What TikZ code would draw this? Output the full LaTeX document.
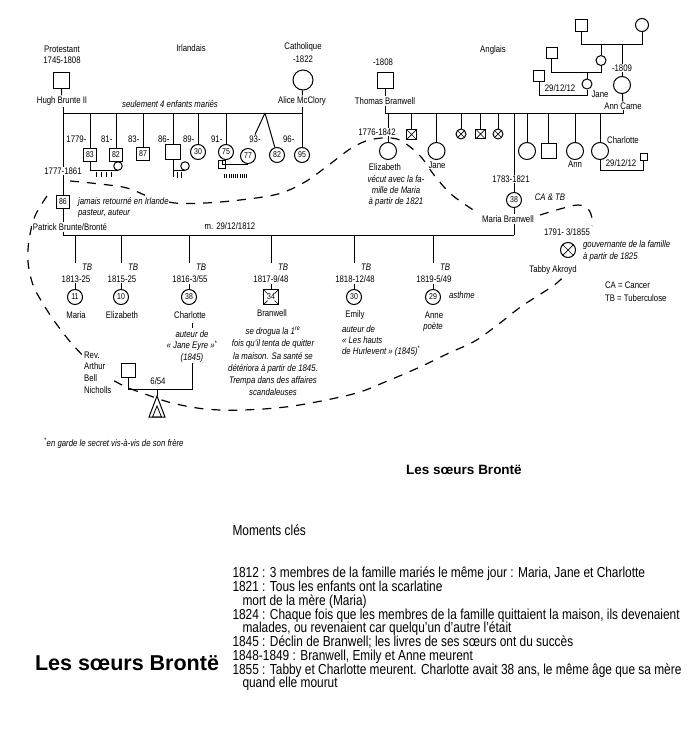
\documentclass[tikz,border=0pt]{standalone}
\usepackage{fontspec}
\setmainfont[FakeStretch=0.82]{Liberation Sans}
\newfontfamily\titlefont{Liberation Sans}
\usetikzlibrary{arrows.meta,positioning,calc,backgrounds}
\newcommand{\lblsize}{\fontsize{9.5}{10.5}\selectfont}
\newcommand{\tightlines}{\lineskiplimit=-20pt\relax}

\begin{document}
\begin{tikzpicture}[x=1pt, y=-1pt, line width=1pt, >=Stealth,
  lbl/.style={font=\lblsize, inner sep=0.6pt, fill=white},
  note/.style={font=\fontsize{9.5}{11.2}\selectfont\itshape, inner sep=0.6pt, align=#1, fill=white},
  note/.default=center,
  man/.style={draw, minimum size=#1, inner sep=0pt, fill=white},
  man/.default=15pt,
  woman/.style={draw, circle, minimum size=#1, inner sep=0pt, fill=white},
  woman/.default=17pt,
  age/.style={draw, circle, minimum size=15pt, inner sep=0pt, fill=white, font=\fontsize{8.5}{9}\selectfont},
  boldsq/.style={draw, line width=1.4pt, minimum size=13.5pt, inner sep=0pt, fill=white, font=\fontsize{8.5}{9}\selectfont},
  xsq/.style={draw, minimum size=#1, inner sep=0pt, fill=white,
    path picture={\draw[line width=0.7pt] (path picture bounding box.north west) -- (path picture bounding box.south east)
      (path picture bounding box.north east) -- (path picture bounding box.south west);}},
  xsq/.default=9.5pt,
  xcirc/.style={xsq=#1, circle},
  xcirc/.default=10pt,
  kids/.style={line width=0.7pt},
  dashline/.style={line width=1.2pt, dash pattern=on 9pt off 8pt}]
  \useasboundingbox (0,0) rectangle (692,750);

  % Brunte side
  \node[lbl] (prot) at (62,49) {Protestant};
  \node[lbl] (hughd) at (62,60) {1745-1808};
  \node[man=16pt] (hugh) at (61,80) {};
  \node[lbl] (hughn) at (62,101) {Hugh Brunte II};
  \node[lbl] (irl) at (191,48) {Irlandais};
  \node[lbl] (cath) at (303,47) {Catholique};
  \node[lbl] (alid) at (303,59) {-1822};
  \node[woman=20pt] (alice) at (303,80) {};
  \node[lbl] (alicen) at (302,101) {Alice McClory};
  \node[note] (seul) at (170,104) {seulement 4 enfants mariés};
  \coordinate (hb) at (63,113);
  \coordinate (ab) at (302,113);
  \coordinate (twin) at (265,113);

  \foreach \n/\x/\y/\a in {k1/90/155/83, k2/116/155/82, k3/143/154/87}
    \node[boldsq] (\n) at (\x,\y) {\a};
  \node[man=15pt] (k4) at (173,152) {};
  \foreach \n/\x/\y/\a in {k5/198/152/30, k6/226/152/75, k7/248/156/77, k8/277/155/82, k9/302/155/95}
    \node[age] (\n) at (\x,\y) {\a};
  \foreach \n/\x/\t in {k1/87.5/1779-, k2/113.5/81-, k3/140.5/83-, k4/170.5/86-, k5/195.5/89-, k6/223.5/91-, k9/295.5/96-}
    \node[lbl, anchor=east] (y\n) at (\x,139) {\t};
  \node[lbl] (yk7) at (255,139) {93-};
  \node[woman=8.5pt] (w1) at (118,166) {};
  \node[woman=8.5pt] (w4) at (185,166) {};
  \node[man=7.5pt] (h6) at (222,164.5) {};

  \node[lbl] (patd) at (63,171) {1777-1861};
  \node[boldsq] (pat) at (63,202) {86};
  \node[note=left, anchor=west] (patnote) at (77,207.5) {jamais retourné en Irlande\\pasteur, auteur};
  \node[lbl] (patn) at (70,227) {Patrick Brunte/Bronté};
  \node[lbl] (marr) at (230,226) {m. 29/12/1812};
  \coordinate (pbar) at (63,235);
  \coordinate (mbar) at (514,235);

  % Patrick's children
  \foreach \n/\x/\d/\a/\nm in {maria/75/1813-25/11/Maria, eliz/121/1815-25/10/Elizabeth, charl/189/{1816-3/55}/38/Charlotte, emily/354/{1818-12/48}/30/Emily, anne/433/{1819-5/49}/29/Anne} {
    \node[note] (tb\n) at (\x+12,267) {TB};
    \node[lbl] (d\n) at (\x+1,279) {\d};
    \node[age] (\n) at (\x,297) {\a};
    \node[lbl] (n\n) at (\x+1,315) {\nm};
    \draw (\x,235) -- (\x,263);
    \draw (\n |- d\n.south) -- (\n);
  }
  \node[note] (tbbran) at (283,267) {TB};
  \node[lbl] (dbran) at (271,279) {1817-9/48};
  \node[boldsq, minimum size=15pt, path picture={\draw[line width=0.7pt]
      (path picture bounding box.north west) -- ++(4pt,-4pt) (path picture bounding box.north east) -- ++(-4pt,-4pt)
      (path picture bounding box.south west) -- ++(4pt,4pt) (path picture bounding box.south east) -- ++(-4pt,4pt);}] (bran) at (271,297) {34};
  \node[lbl] (nbran) at (272,313) {Branwell};
  \node[note] (charnote) at (192,346.5) {auteur de\\« Jane Eyre »\textsuperscript{*}\\(1845)};
  \node[note, font=\fontsize{9.5}{12.2}\selectfont\itshape] (brannote) at (273,361.5) {se drogua la 1\textsuperscript{re}\\fois qu'il tenta de quitter\\la maison. Sa santé se\\détériora à partir de 1845.\\Trempa dans des affaires\\scandaleuses};
  \node[note=left, anchor=west] (emnote) at (341,341) {auteur de\\« Les hauts\\de Hurlevent » (1845)\textsuperscript{*}};
  \node[note, anchor=west] (asth) at (448,295) {asthme};
  \node[note] (poete) at (433,327) {poète};

  \node[man=14pt] (nich) at (128,370) {};
  \node[lbl, align=left, anchor=west, font=\fontsize{9.5}{11.7}\selectfont] (nichn) at (83,372.5) {Rev.\\Arthur\\Bell\\Nicholls};
  \node[lbl] (wed) at (158,381) {6/54};
  \coordinate (nb) at (128,389);
  \coordinate (cb) at (192,389);
  \coordinate (tri) at (157,396);
  \coordinate (tick) at (192,323);

  % Branwell side
  \node[lbl] (thd) at (383,62) {-1808};
  \node[man=16pt] (thomas) at (385,80) {};
  \node[lbl] (thn) at (385,101) {Thomas Branwell};
  \node[lbl] (angl) at (493,50) {Anglais};
  \node[man=12pt] (gf) at (581,25) {};
  \node[woman=13pt] (gm) at (642,25) {};
  \node[woman=10pt] (aunt) at (601,60.5) {};
  \node[man=11pt] (ugf) at (551.5,52.5) {};
  \node[woman=10pt] (jane) at (587,84) {};
  \node[man=11.5pt] (janeh) at (539,76) {};
  \node[lbl] (janed) at (560,88) {29/12/12};
  \node[lbl] (janen) at (600,94) {Jane};
  \node[lbl] (annd) at (622,68) {-1809};
  \node[woman=17pt] (ann) at (622,85) {};
  \node[lbl] (annn) at (623,106) {Ann Carne};
  \coordinate (tb) at (385,113);
  \coordinate (cb2) at (623,113);
  \coordinate (gb) at (581,44);
  \coordinate (ub) at (551.5,72);
  \coordinate (jb) at (539,95);

  \node[lbl] (elid) at (377,132) {1776-1842};
  \node[woman] (eliz2) at (388,151) {};
  \node[lbl] (elin) at (385,167) {Elizabeth};
  \node[note] (elinote) at (396,191) {vécut avec la fa-\\mille de Maria\\à partir de 1821};
  \node[xsq] (bx1) at (411.5,134.5) {};
  \node[woman] (jane2) at (436.5,151) {};
  \node[lbl] (jane2n) at (437,165) {Jane};
  \node[xcirc] (bx2) at (461,134) {};
  \node[xsq] (bx3) at (480.5,134) {};
  \node[xcirc] (bx4) at (498,134) {};
  \node[lbl] (mbd) at (511,179) {1783-1821};
  \node[age] (mariab) at (514,200) {38};
  \node[note] (catb) at (550,197) {CA \& TB};
  \node[lbl] (mbn) at (508,219) {Maria Branwell};
  \node[woman] (sis1) at (527,151) {};
  \node[man] (bro1) at (548.5,150.5) {};
  \node[woman] (sis2) at (575,151) {};
  \node[lbl] (sis2n) at (575,164) {Ann};
  \node[woman] (sis3) at (600,151) {};
  \node[lbl] (sis3n) at (623,140) {Charlotte};
  \node[man=7pt] (sis3h) at (643.5,156.5) {};
  \node[lbl] (sis3d) at (621,163) {29/12/12};
  \coordinate (sb) at (600,170);

  \node[lbl] (tabd) at (567,232) {1791- 3/1855};
  \node[xcirc=15pt] (tabby) at (568,250) {};
  \node[lbl] (tabn) at (553,270) {Tabby Akroyd};
  \node[note=left, anchor=west] (tabnote) at (582,251) {gouvernante de la famille\\à partir de 1825};
  \node[lbl, align=left, anchor=west, font=\fontsize{9.5}{13}\selectfont] (legend) at (604,291.5) {CA = Cancer\\TB = Tuberculose};

  \node[note=left, anchor=west] (foot) at (43,443) {\textsuperscript{*}en garde le secret vis-à-vis de son frère};
  \node[font={\titlefont\fontsize{13.5}{15}\selectfont\bfseries}] (title1) at (464,470) {Les sœurs Brontë};
  \node[font={\titlefont\fontsize{21.5}{24}\selectfont\bfseries}] (title2) at (127,663) {Les sœurs Brontë};
  \node[anchor=west, inner sep=0pt, font=\fontsize{14.5}{14}\selectfont] (mom) at (232,530) {Moments clés};
  \node[anchor=west, inner sep=0pt, align=left, font=\fontsize{14.5}{13.75}\selectfont\tightlines] (events) at (232,629) {1812 : 3 membres de la famille mariés le même jour : Maria, Jane et Charlotte\\1821 : Tous les enfants ont la scarlatine\\\hspace*{10pt}mort de la mère (Maria)\\1824 : Chaque fois que les membres de la famille quittaient la maison, ils devenaient\\\hspace*{10pt}malades, ou revenaient car quelqu'un d'autre l'était\\1845 : Déclin de Branwell; les livres de ses sœurs ont du succès\\1848-1849 : Branwell, Emily et Anne meurent\\1855 : Tabby et Charlotte meurent. Charlotte avait 38 ans, le même âge que sa mère\\\hspace*{10pt}quand elle mourut};

  % edges
  \draw (hugh) -- (hughn); \draw (alice) -- (alicen);
  \draw (hughn.south -| hb) -- (hb) -- (ab);
  \draw (alicen.south -| ab) -- (k9);
  \foreach \n in {k1,k2,k3,k4,k5,k6} \draw (\n |- hb) -- (\n);
  \draw (twin) -- (yk7.north); \draw (twin) -- (k8);
  \draw (k1) -- (k1 |- w1.south) -- (w1.south);
  \foreach \t in {96,101,106,111} \draw[kids] (\t,172) -- ++(0,5);
  \draw (k4) -- ($(k4 |- w4.south)+(0,6)$); \draw (k4 |- w4.south) -- (w4.south);
  \foreach \t in {177,181} \draw[kids] (\t,172) -- ++(0,6);
  \draw (h6) -- (h6 |- k7.south) -- (k7.south);
  \foreach \t in {0,...,10} \draw[kids] (224.5+2.2*\t,174) -- ++(0,4);
  \draw (hb) -- (hb |- patd.north); \draw (pat |- patd.south) -- (pat);
  \draw (pat) -- (pat |- patn.north); \draw (pat |- patn.south) -- (pbar) -- (mbar);
  \draw (271,235) -- (271,263); \draw (dbran) -- (bran);
  \draw (tick) -- ++(0,5);
  \draw (nich) -- (nb) -- (cb) -- (cb |- charnote.south);
  \draw (tri |- nb) -- (tri);
  \draw[fill=white] (tri) -- ++(-8,21) -- ++(16,0) -- cycle;
  \draw[line width=0.8pt] ($(tri)+(0,10)$) -- ++(-4.5,11) -- ++(9,0) -- cycle;

  \draw (thomas) -- (thn);
  \draw (thn.south -| tb) -- (tb) -- (cb2) -- (annn.south -| cb2);
  \draw (gf) -- (gb) -- (gb -| gm) -- (gm);
  \draw (aunt |- gb) -- (aunt);
  \draw (annd |- gb) -- (annd);
  \draw (ugf) -- (ub) -- (ub -| aunt) -- (aunt);
  \draw (jane |- ub) -- (jane);
  \draw (janeh) -- (jb) -- (jb -| jane) -- (jane);
  \draw (annd) -- (ann); \draw (ann) -- (annn);
  \draw (eliz2 |- tb) -- (eliz2 |- elid.north); \draw (eliz2 |- elid.south) -- (eliz2);
  \foreach \n in {bx1,jane2,bx2,bx3,bx4,sis1,bro1,sis2,sis3} \draw (\n |- tb) -- (\n);
  \draw (mariab |- tb) -- (mariab |- mbd.north); \draw (mariab |- mbd.south) -- (mariab);
  \draw (mariab) -- (mariab |- mbn.north); \draw (mariab |- mbn.south) -- (mbar);
  \draw (sis3) -- (sb) -- (sb -| sis3h) -- (sis3h);

  \begin{scope}[on background layer]
    \draw[dashline] plot[smooth, tension=0.55] coordinates {(70,181) (100,184) (127,188) (150,197) (175,203) (205,203) (240,200) (278,194) (305,182) (330,164) (350,149) (366,141) (382,138) (397,139) (409,146) (422,158) (434,175) (452,195) (478,213)};
    \draw[dashline] plot[smooth, tension=0.6] coordinates {(540,215) (560,209) (578,205) (588,209) (592,218) (592,226)};
    \draw[dashline] plot[smooth, tension=0.55] coordinates {(47,196) (35,216) (29,240) (28,262) (33,285) (42,302) (55,322) (73,345) (98,370) (122,385) (145,394) (172,403) (205,409) (243,410) (293,406) (353,394) (385,382) (420,367) (449,353) (475,341) (500,323) (522,306) (553,286) (563,277)};
  \end{scope}
\end{tikzpicture}
\end{document}
